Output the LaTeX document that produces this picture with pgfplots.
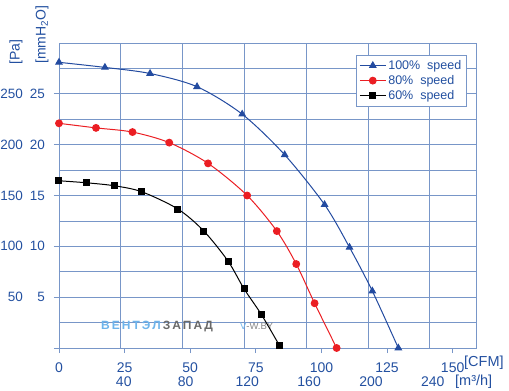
\documentclass[border=0pt]{standalone}
\usepackage{pgfplots}
\pgfplotsset{compat=1.18}
\usepackage{fontspec}
\setmainfont{Liberation Sans}
\definecolor{txt}{RGB}{35,80,160}
\definecolor{gridc}{RGB}{120,150,200}
\definecolor{sblue}{RGB}{35,75,160}
\definecolor{sred}{RGB}{235,30,35}
\definecolor{wmblue}{RGB}{110,180,235}
\definecolor{wmgrey}{RGB}{105,105,105}
\begin{document}
\begin{tikzpicture}
\path[use as bounding box] (-59pt,-43pt) rectangle (450pt,348pt);
\begin{axis}[
  at={(0,0)}, anchor=south west,
  scale only axis, width=417pt, height=305pt,
  xmin=0, xmax=158.9, ymin=0, ymax=300,
  axis line style={gridc, line width=0.8pt},
  grid style={gridc, line width=0.8pt},
  tick style={gridc, line width=0.8pt},
  tick align=outside,
  major tick length=5pt, minor tick length=0pt,
  xtick pos=bottom, ytick pos=left,
  /pgf/number format/assume math mode=true,
  xtick={0,25,...,150},
  xticklabel style={anchor=center, yshift=-15pt, font=\fontsize{14}{16}\selectfont, text=txt},
  extra x ticks={23.54,47.08,70.63,94.17,117.72,141.26},
  extra x tick labels={40,80,120,160,200,240},
  extra x tick style={xmajorgrids=true, major tick length=0pt,
     xticklabel style={yshift=-19pt, xshift=3pt}},
  ytick={0,50,...,250},
  yticklabels={,50,100,150,200,250},
  yticklabel style={anchor=east, inner sep=0pt, xshift=-31pt, font=\fontsize{13.5}{16}\selectfont, text=txt},
  extra y ticks={50,100,...,250},
  extra y tick labels={5,10,15,20,25},
  extra y tick style={yticklabel style={xshift=22pt}},
  minor ytick={25,75,...,275},
  ymajorgrids, yminorgrids,
  legend style={at={(0.712,0.961)}, anchor=north west, draw=gridc, fill=white,
     font=\fontsize{12.5}{14}\selectfont, text=txt, inner sep=3pt, row sep=0.5pt,
     line width=0.8pt},
  legend cell align=left,
  legend image code/.code={\draw[mark repeat=2,mark phase=2,#1] plot coordinates {(0pt,0pt) (13pt,0pt) (26pt,0pt)};},
]
\node[anchor=west, inner sep=0pt, font=\bfseries\fontsize{12}{14}\selectfont] at (axis cs:16.0,21.6)
  {{\color{wmblue}В\,Е\,Н\,Т\,Э\,Л}\,{\color{wmgrey}З\,А\,П\,А\,Д}};
\node[anchor=west, inner sep=0pt, font=\fontsize{9.5}{11}\selectfont] at (axis cs:68.9,21.6)
  {{\color{wmblue}V}{\color{wmgrey!80}-W.BY}};
\addplot[sblue, line width=1pt, smooth, mark=triangle*, mark size=3.6pt, mark options={fill=sblue, draw=sblue}]
  coordinates {(0,281) (17.5,276) (34.7,270) (52.6,257) (69.8,230) (86,190) (101.2,141) (110.7,99) (119.4,56) (129.3,0)};
\addlegendentry{100\%~ speed}
\addplot[sred, line width=1pt, smooth, mark=*, mark size=3.4pt, mark options={fill=sred, draw=sred}]
  coordinates {(0,221) (14.1,216.5) (28,212.4) (42,202) (56.8,181.6) (71.7,150) (83,115) (90.4,82.6) (97.4,44) (105.8,0)};
\addlegendentry{80\%~ speed}
\addplot[black, line width=1pt, smooth, mark=square*, mark size=3pt, mark options={fill=black, draw=black}]
  coordinates {(0,164.5) (10.5,162.5) (21,159.6) (31.5,153.7) (45.3,136.7) (55.2,115) (64.4,85.5) (70.5,58.3) (77.1,33) (84.1,2)};
\addlegendentry{60\%~ speed}
\end{axis}
\node[rotate=90, anchor=west, inner sep=0pt, text=txt, font=\fontsize{14}{16}\selectfont] at (-43pt,283pt) {[Pa]};
\node[rotate=90, anchor=west, inner sep=0pt, text=txt, font=\fontsize{14}{16}\selectfont] at (-17pt,284pt) {[mmH\textsubscript{2}O]};
\node[anchor=west, inner sep=0pt, text=txt, font=\fontsize{14.5}{16}\selectfont] at (405pt,-15pt) {[CFM]};
\node[anchor=west, inner sep=0pt, text=txt, font=\fontsize{14.5}{16}\selectfont] at (396pt,-34pt) {[m³/h]};
\end{tikzpicture}
\end{document}
